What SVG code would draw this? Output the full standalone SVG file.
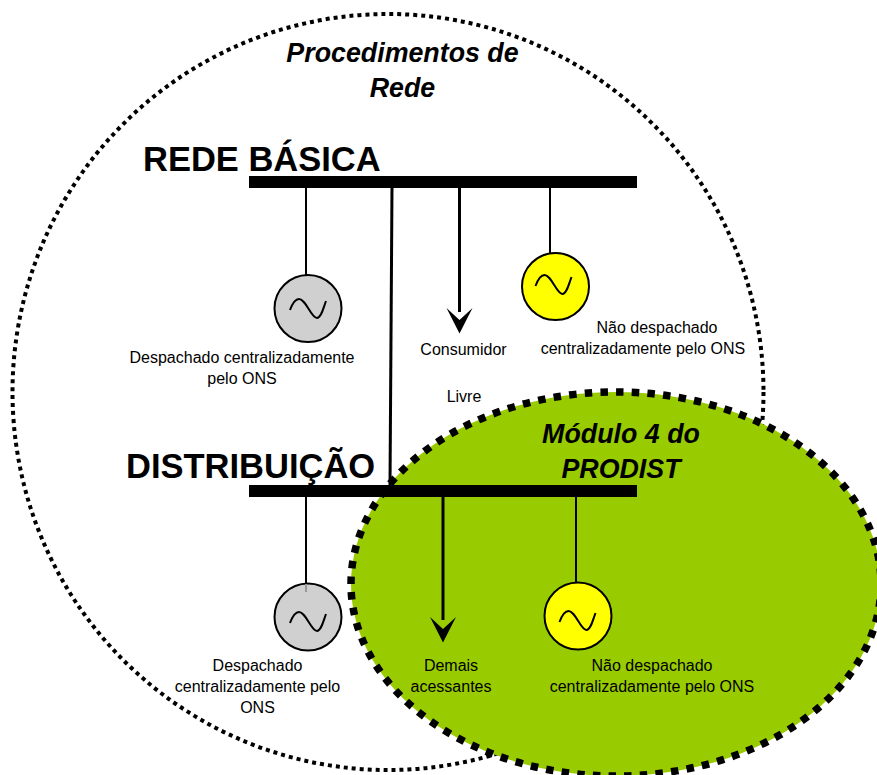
<svg xmlns="http://www.w3.org/2000/svg" width="877" height="775" viewBox="0 0 877 775">
<style>
text{font-family:"Liberation Sans",Arial,sans-serif;fill:#000}
.s{font-size:16px;text-anchor:middle}
.h{font-size:34.500px;font-weight:bold}
.t{font-size:26.800px;font-weight:bold;font-style:italic;text-anchor:middle}
.bus{fill:#000}
.w{stroke:#000;stroke-width:2;fill:none}
.a{stroke:#000;stroke-width:3;fill:none}
.g{stroke:#000;stroke-width:2}
.sine{fill:none;stroke:#000;stroke-width:2}
</style>
<defs>
<path id="head" d="M-13 0L0 25.500L13 0L0 12Z" fill="#000"/>
<path id="wave" d="M-18 1C-15 -7 -12 -10 -9 -10C-2 -10 3 9 9 9C13 9 15 0 18 -8"/>
</defs>
<g id="procedimentos"><ellipse cx="388" cy="392" rx="375.500" ry="378" fill="none" stroke="#000" stroke-width="4" stroke-dasharray="4 4"/></g>
<g id="modulo4"><ellipse cx="616" cy="584" rx="265" ry="192" fill="#9c0" stroke="#000" stroke-width="7.500" stroke-dasharray="7.500 8.200"/></g>
<g id="connectors">
<line class="w" x1="306" y1="187" x2="306" y2="275"/>
<line class="a" x1="392" y1="187" x2="390" y2="487"/>
<line class="a" x1="459.500" y1="187" x2="459.500" y2="312"/>
<use href="#head" x="459.500" y="308"/>
<line class="w" x1="550" y1="187" x2="550" y2="253"/>
<line class="w" x1="306" y1="496" x2="306" y2="584"/>
<line class="a" x1="443" y1="496" x2="443" y2="620"/>
<use href="#head" x="443" y="617"/>
<line class="w" x1="576" y1="496" x2="576" y2="583"/>
</g>
<g id="rede-basica"><rect class="bus" x="249" y="176" width="388" height="12"/><text class="h" x="143" y="170.500">REDE BÁSICA</text></g>
<g id="distribuicao"><rect class="bus" x="249" y="485" width="388" height="12"/><text class="h" x="126" y="478">DISTRIBUIÇÃO</text></g>
<g id="gen-rb-despachado"><circle class="g" cx="308" cy="308.500" r="33.500" fill="#d0d0d0"/><use class="sine" href="#wave" x="308" y="309"/><text class="s" x="242" y="363">Despachado centralizadamente</text><text class="s" x="242" y="384">pelo ONS</text></g>
<g id="gen-rb-nao"><circle class="g" cx="555.500" cy="286.500" r="33.500" fill="#ff0"/><use class="sine" href="#wave" x="553.500" y="285"/><text class="s" x="657" y="333">Não despachado</text><text class="s" x="643" y="354">centralizadamente pelo ONS</text></g>
<g id="consumidor"><text class="s" x="463.500" y="355">Consumidor</text><text class="s" x="464" y="402">Livre</text></g>
<g id="gen-d-despachado"><circle class="g" cx="308" cy="617" r="33.500" fill="#d0d0d0"/><line x1="306" y1="584" x2="306" y2="592" stroke="#999" stroke-width="2"/><use class="sine" href="#wave" x="308" y="622"/><text class="s" x="257.500" y="671">Despachado</text><text class="s" x="257.500" y="692">centralizadamente pelo</text><text class="s" x="257.500" y="713">ONS</text></g>
<g id="gen-d-nao"><circle class="g" cx="578" cy="616" r="33.500" fill="#ff0"/><use class="sine" href="#wave" x="577.500" y="621"/><text class="s" x="652" y="671">Não despachado</text><text class="s" x="652" y="692">centralizadamente pelo ONS</text></g>
<g id="demais"><text class="s" x="451" y="671">Demais</text><text class="s" x="451" y="692">acessantes</text></g>
<g id="titulos"><text class="t" x="402.500" y="62">Procedimentos de</text><text class="t" x="402.500" y="97">Rede</text><text class="t" x="621" y="443">Módulo 4 do</text><text class="t" x="621" y="478">PRODIST</text></g>
</svg>
